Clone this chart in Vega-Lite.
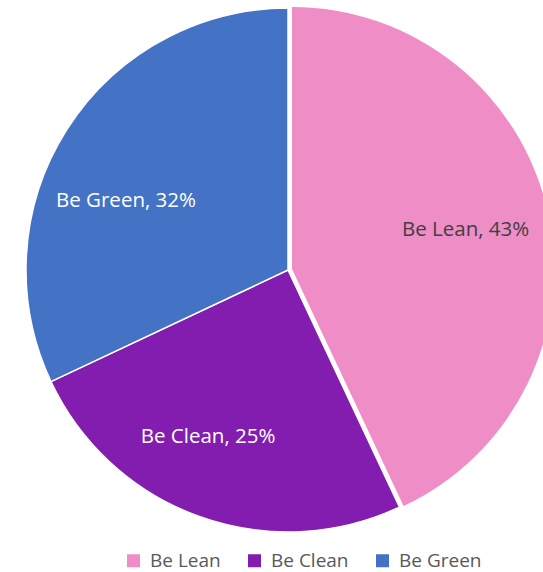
{
  "$schema": "https://vega.github.io/schema/vega-lite/v6.json",
  "width": 576,
  "height": 540,
  "padding": {"left": 0, "top": 0, "right": 0, "bottom": 4},
  "background": "white",
  "config": {"view": {"stroke": null}, "font": "Open Sans"},
  "data": {
    "values": [
      {"category": "Be Lean", "value": 43, "rank": 1, "label": "Be Lean, 43%"},
      {"category": "Be Clean", "value": 25, "rank": 2, "label": "Be Clean, 25%"},
      {"category": "Be Green", "value": 32, "rank": 3, "label": "Be Green, 32%"}
    ]
  },
  "encoding": {
    "theta": {"field": "value", "type": "quantitative", "stack": true},
    "order": {"field": "rank", "type": "quantitative"}
  },
  "layer": [
    {
      "mark": {"type": "arc", "outerRadius": 262, "stroke": "white", "strokeWidth": 1.5},
      "encoding": {
        "color": {
          "field": "category", "type": "nominal",
          "scale": {"domain": ["Be Lean", "Be Clean", "Be Green"], "range": ["#EF8DC6", "#831DAF", "#4472C4"]},
          "legend": {
            "title": null, "orient": "none", "direction": "horizontal",
            "legendX": 124, "legendY": 551,
            "symbolType": "square", "symbolSize": 169, "symbolStrokeWidth": 0,
            "labelFontSize": 19, "labelColor": "#595959", "labelFont": "Open Sans",
            "columnPadding": 24, "labelOffset": 7
          }
        },
        "opacity": {"condition": {"test": "datum.category == 'Be Lean'", "value": 0}, "value": 1}
      }
    },
    {
      "mark": {"type": "arc", "outerRadius": 262, "xOffset": 4, "yOffset": -1},
      "encoding": {
        "color": {"field": "category", "type": "nominal"},
        "opacity": {"condition": {"test": "datum.category == 'Be Lean'", "value": 1}, "value": 0}
      }
    },
    {
      "mark": {"type": "text", "radius": 182, "fontSize": 20.5, "font": "Open Sans", "color": "#404040"},
      "encoding": {
        "text": {"field": "label"},
        "opacity": {"condition": {"test": "datum.category == 'Be Lean'", "value": 1}, "value": 0}
      }
    },
    {
      "mark": {"type": "text", "radius": 185, "thetaOffset": 0.101, "fontSize": 20.5, "font": "Open Sans", "color": "white"},
      "encoding": {
        "text": {"field": "label"},
        "opacity": {"condition": {"test": "datum.category == 'Be Clean'", "value": 1}, "value": 0}
      }
    },
    {
      "mark": {"type": "text", "radius": 176, "thetaOffset": -0.164, "fontSize": 20.5, "font": "Open Sans", "color": "white"},
      "encoding": {
        "text": {"field": "label"},
        "opacity": {"condition": {"test": "datum.category == 'Be Green'", "value": 1}, "value": 0}
      }
    }
  ]
}
